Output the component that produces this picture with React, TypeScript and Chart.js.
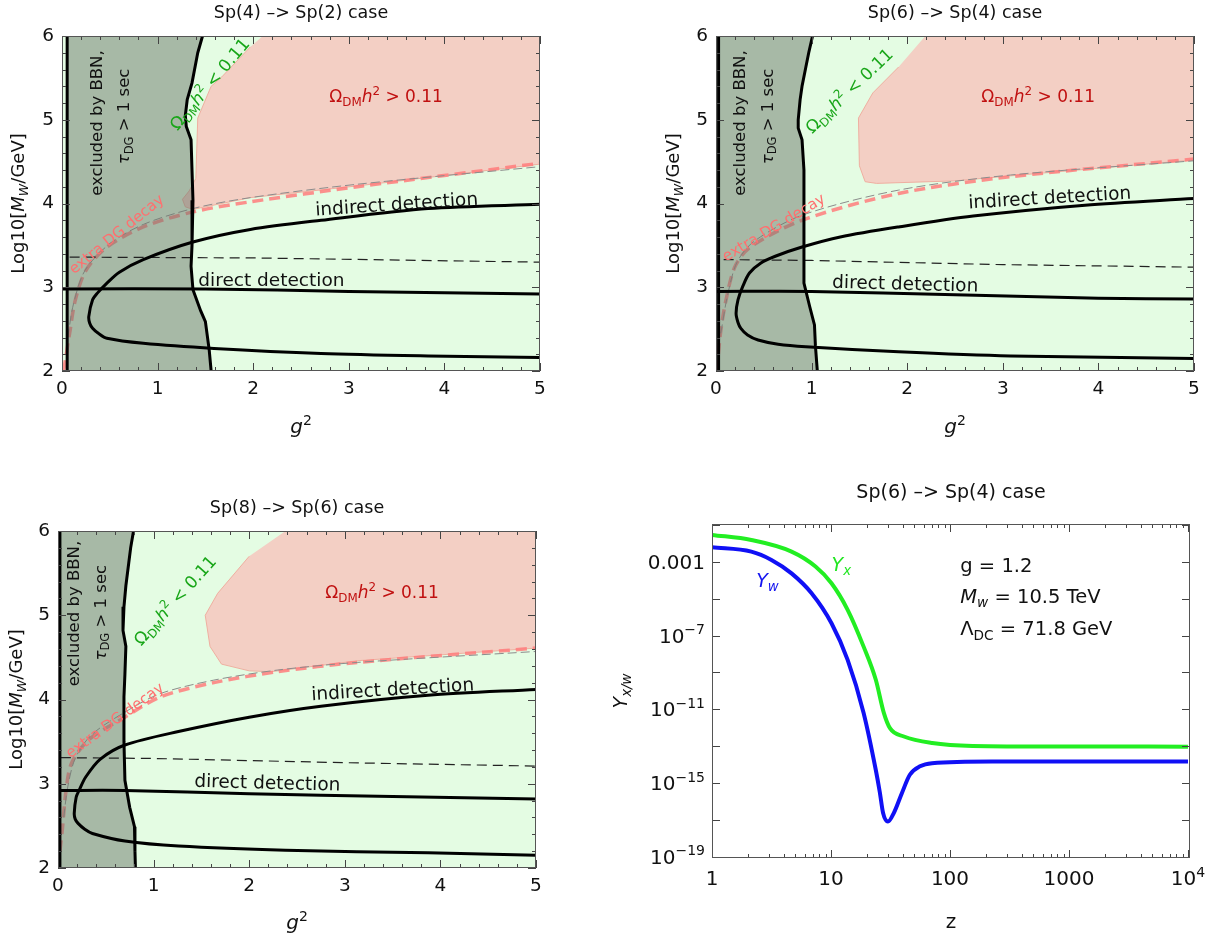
import React, { useEffect, useRef } from 'react';
import { Chart, registerables } from 'chart.js';

Chart.register(...registerables);

const FONT = '"DejaVu Sans", "Noto Sans", sans-serif';

// ================= Panel 1 : Sp(4) -> Sp(2) =================
const p1LeftLineG2 = 0.054;
const p1BbnG2 = [1.47, 1.42, 1.36, 1.31, 1.29, 1.30, 1.35, 1.37, 1.36, 1.35, 1.37, 1.45, 1.50, 1.54, 1.56];
const p1BbnLogM = [6.0, 5.8, 5.44, 5.24, 5.05, 4.92, 4.76, 4.04, 3.5, 3.25, 2.97, 2.72, 2.59, 2.25, 2.0];
const p1IndirectG2 = [5.0, 3.83, 2.71, 1.97, 1.37, 0.85, 0.6, 0.47, 0.37, 0.32, 0.28, 0.29, 0.32, 0.38, 0.47, 0.85, 1.59, 2.71, 3.83, 5.0];
const p1IndirectLogM = [3.99, 3.94, 3.8, 3.69, 3.54, 3.33, 3.18, 3.05, 2.93, 2.85, 2.65, 2.57, 2.51, 2.45, 2.39, 2.33, 2.27, 2.21, 2.18, 2.16];
const p1DirectG2 = [0, 1.5, 3.0, 5.0];
const p1DirectLogM = [2.98, 2.98, 2.95, 2.92];
const p1DashG2 = [0.08, 2.0, 5.0];
const p1DashLogM = [3.36, 3.35, 3.3];
const p1DecayG2 = [0.015, 0.024, 0.08, 0.14, 0.25, 0.47, 0.85, 1.37, 1.97, 3.09, 5.0];
const p1DecayLogM = [2.0, 2.05, 2.45, 2.85, 3.2, 3.48, 3.72, 3.9, 4.02, 4.2, 4.48];
const p1EdgeG2 = [0.06, 0.12, 0.24, 0.5, 0.85, 1.37, 1.97, 3.09, 5.0];
const p1EdgeLogM = [2.4, 2.8, 3.2, 3.52, 3.75, 3.94, 4.07, 4.23, 4.44];
const p1OverG2 = [2.1, 5.0, 5.0, 3.09, 1.97, 1.37, 1.29, 1.26, 1.33, 1.4, 1.42, 1.56, 1.67, 1.97];
const p1OverLogM = [6.0, 6.0, 4.47, 4.21, 4.07, 3.93, 3.96, 4.05, 4.15, 4.3, 5.02, 5.4, 5.51, 5.87];

// ================= Panel 2 : Sp(6) -> Sp(4) =================
const p2LeftLineG2 = 0.027;
const p2BbnG2 = [1.01, 0.97, 0.94, 0.9, 0.88, 0.86, 0.86, 0.9, 0.92, 0.92, 0.92, 0.92, 0.98, 1.03, 1.04, 1.06];
const p2BbnLogM = [6.0, 5.8, 5.63, 5.4, 5.24, 5.0, 4.9, 4.76, 4.4, 4.04, 3.5, 3.05, 2.77, 2.55, 2.3, 2.0];
const p2IndirectG2 = [5.0, 3.86, 2.69, 1.91, 1.3, 0.9, 0.62, 0.47, 0.35, 0.28, 0.23, 0.21, 0.23, 0.26, 0.33, 0.44, 0.65, 0.94, 1.91, 3.08, 5.0];
const p2IndirectLogM = [4.06, 3.98, 3.85, 3.72, 3.6, 3.48, 3.37, 3.29, 3.17, 3.01, 2.85, 2.69, 2.58, 2.51, 2.43, 2.37, 2.32, 2.29, 2.23, 2.18, 2.15];
const p2DirectG2 = [0, 1.0, 2.5, 4.0, 5.0];
const p2DirectLogM = [2.95, 2.95, 2.91, 2.87, 2.86];
const p2DashG2 = [0.08, 1.0, 3.0, 5.0];
const p2DashLogM = [3.33, 3.32, 3.27, 3.24];
const p2DecayG2 = [0.01, 0.047, 0.105, 0.2, 0.36, 0.9, 1.91, 3.08, 5.0];
const p2DecayLogM = [2.0, 2.45, 2.85, 3.25, 3.48, 3.8, 4.12, 4.32, 4.53];
const p2EdgeG2 = [0.05, 0.12, 0.22, 0.4, 0.9, 1.91, 3.08, 5.0];
const p2EdgeLogM = [2.45, 2.9, 3.3, 3.55, 3.86, 4.16, 4.34, 4.51];
const p2OverG2 = [2.19, 5.0, 5.0, 3.08, 2.5, 1.68, 1.56, 1.5, 1.49, 1.64, 1.91];
const p2OverLogM = [6.0, 6.0, 4.52, 4.33, 4.27, 4.24, 4.26, 4.45, 5.02, 5.32, 5.63];

// ================= Panel 3 : Sp(8) -> Sp(6) =================
const p3LeftLineG2 = 0.02;
const p3BbnG2 = [0.79, 0.76, 0.74, 0.71, 0.69, 0.68, 0.71, 0.7, 0.69, 0.69, 0.7, 0.75, 0.8, 0.805, 0.81];
const p3BbnLogM = [6.0, 5.8, 5.62, 5.35, 5.1, 4.82, 4.63, 4.3, 4.03, 3.5, 3.04, 2.72, 2.49, 2.2, 2.0];
const p3IndirectG2 = [5.0, 3.87, 2.75, 2.0, 1.26, 0.7, 0.44, 0.29, 0.22, 0.19, 0.17, 0.18, 0.21, 0.28, 0.36, 0.7, 1.26, 2.38, 3.87, 5.0];
const p3IndirectLogM = [4.12, 4.05, 3.92, 3.79, 3.62, 3.46, 3.29, 3.08, 2.92, 2.84, 2.65, 2.58, 2.53, 2.46, 2.41, 2.32, 2.26, 2.21, 2.18, 2.15];
const p3DirectG2 = [0, 0.7, 2.0, 3.5, 5.0];
const p3DirectLogM = [2.92, 2.92, 2.88, 2.85, 2.82];
const p3DashG2 = [0.03, 1.0, 3.0, 5.0];
const p3DashLogM = [3.31, 3.3, 3.25, 3.21];
const p3DecayG2 = [0.02, 0.045, 0.08, 0.14, 0.32, 0.7, 1.07, 1.63, 2.3, 3.13, 5.0];
const p3DecayLogM = [2.2, 2.45, 2.88, 3.24, 3.52, 3.79, 4.03, 4.2, 4.33, 4.44, 4.61];
const p3EdgeG2 = [0.06, 0.1, 0.18, 0.35, 0.7, 1.07, 1.63, 2.3, 3.13, 5.0];
const p3EdgeLogM = [2.6, 2.95, 3.3, 3.58, 3.85, 4.07, 4.23, 4.35, 4.44, 4.57];
const p3OverG2 = [2.38, 5.0, 5.0, 3.13, 2.23, 2.0, 1.71, 1.59, 1.54, 1.67, 2.0];
const p3OverLogM = [6.0, 6.0, 4.61, 4.46, 4.33, 4.34, 4.42, 4.63, 5.0, 5.26, 5.7];

// ================= Panel 4 : abundances =================
const p4YxZ = [1, 2.14, 4.66, 7.41, 10.1, 13.8, 18.8, 23.8, 27.8, 31.3, 41.0, 70.8, 155, 1000, 10000];
const p4YxVal = [2.95e-2, 1.55e-2, 3.63e-3, 5.62e-4, 6.92e-5, 2.51e-6, 2.51e-8, 3.98e-10, 6.31e-12, 9.33e-13, 3.31e-13, 1.45e-13, 1.02e-13, 9.5e-14, 9.3e-14];
const p4YwZ = [1, 2.14, 3.16, 4.66, 6.87, 10.1, 13.8, 18.8, 23.8, 25.7, 27.4, 30.1, 33.7, 39.4, 46.0, 56.0, 70.6, 226, 1000, 10000];
const p4YwVal = [6.3e-3, 3.63e-3, 1.29e-3, 2.4e-4, 2.0e-5, 4.68e-7, 4.79e-9, 6.31e-12, 5.0e-15, 3.2e-16, 2.29e-17, 7.9e-18, 2.29e-17, 2.75e-16, 2.75e-15, 7.9e-15, 1.17e-14, 1.45e-14, 1.45e-14, 1.45e-14];
const p4XTickValues = [1, 10, 100, 1000, 10000];
const p4XTickLabels = ['1', '10', '100', '1000', '10^4'];
const p4YTickValues = [1e-3, 1e-7, 1e-11, 1e-15, 1e-19];
const p4YTickLabels = ['0.001', '10^−7', '10^−11', '10^−15', '10^−19'];

// ================= helpers =================
type Pt = { x: number; y: number };
const zip = (xs: number[], ys: number[]): Pt[] => xs.map((x, i) => ({ x, y: ys[i] }));

type Seg = { t: string; it?: boolean; sub?: boolean; sup?: boolean; color?: string };
type Annot = { segs: Seg[]; x: number; y: number; size: number; color: string; align?: 'left' | 'center' | 'right'; angle?: number };

function drawRich(ctx: CanvasRenderingContext2D, segs: Seg[], x: number, y: number, size: number, color: string, align: 'left' | 'center' | 'right' = 'center', angle = 0) {
  ctx.save();
  ctx.translate(x, y);
  if (angle) ctx.rotate((angle * Math.PI) / 180);
  ctx.textBaseline = 'alphabetic';
  ctx.textAlign = 'left';
  const small = size * 0.7;
  const fontOf = (s: Seg) => `${s.it ? 'italic ' : ''}${s.sub || s.sup ? small : size}px ${FONT}`;
  const widths = segs.map((s) => {
    ctx.font = fontOf(s);
    return ctx.measureText(s.t).width;
  });
  const total = widths.reduce((a, b) => a + b, 0);
  let cx = align === 'center' ? -total / 2 : align === 'right' ? -total : 0;
  const base = size * 0.36;
  segs.forEach((s, i) => {
    ctx.font = fontOf(s);
    ctx.fillStyle = s.color ?? color;
    const dy = s.sub ? size * 0.22 : s.sup ? -size * 0.42 : 0;
    ctx.fillText(s.t, cx, base + dy);
    cx += widths[i];
  });
  ctx.restore();
}

const labelSegs = (lab: string): Seg[] => {
  const i = lab.indexOf('^');
  if (i < 0) return [{ t: lab }];
  return [{ t: lab.slice(0, i) }, { t: lab.slice(i + 1), sup: true }];
};

type Layout = {
  left: number; top: number; w: number; h: number;
  yAxisW: number; padTop: number; padRight: number; xAxisH: number;
  titleY: number; xTitleY: number; yTitleX: number;
};

const LAYOUTS: Layout[] = [
  { left: 0, top: 0, w: 590, h: 460, yAxisW: 62, padTop: 36, padRight: 50, xAxisH: 89, titleY: -24, xTitleY: 55, yTitleX: -44 },
  { left: 620, top: 0, w: 602, h: 460, yAxisW: 96, padTop: 36, padRight: 28, xAxisH: 89, titleY: -24, xTitleY: 55, yTitleX: -43 },
  { left: 0, top: 470, w: 590, h: 468, yAxisW: 58, padTop: 61, padRight: 54, xAxisH: 70, titleY: -24, xTitleY: 54, yTitleX: -42 },
  { left: 600, top: 470, w: 622, h: 468, yAxisW: 112, padTop: 54, padRight: 32, xAxisH: 80, titleY: -33, xTitleY: 63, yTitleX: -92 },
];

type TickSpec = { xMajor: number[]; xMinor: number[]; yMajor: number[]; yMinor: number[] };

function framePlugin(spec: TickSpec, bg: string | null) {
  return {
    id: 'frameTicks',
    beforeDatasetsDraw(chart: any) {
      if (!bg) return;
      const { ctx, chartArea: a } = chart;
      ctx.save();
      ctx.fillStyle = bg;
      ctx.fillRect(a.left, a.top, a.right - a.left, a.bottom - a.top);
      ctx.restore();
    },
    afterDatasetsDraw(chart: any) {
      const { ctx, chartArea: a, scales } = chart;
      ctx.save();
      ctx.strokeStyle = '#444';
      ctx.lineWidth = 1;
      const seg = (x1: number, y1: number, x2: number, y2: number) => {
        ctx.beginPath();
        ctx.moveTo(x1, y1);
        ctx.lineTo(x2, y2);
        ctx.stroke();
      };
      const xt = (v: number, len: number) => {
        const p = Math.round(scales.x.getPixelForValue(v)) + 0.5;
        if (p < a.left - 1 || p > a.right + 1) return;
        seg(p, a.bottom, p, a.bottom - len);
        seg(p, a.top, p, a.top + len);
      };
      const yt = (v: number, len: number) => {
        const p = Math.round(scales.y.getPixelForValue(v)) + 0.5;
        if (p < a.top - 1 || p > a.bottom + 1) return;
        seg(a.left, p, a.left + len, p);
        seg(a.right, p, a.right - len, p);
      };
      spec.xMajor.forEach((v) => xt(v, 8));
      spec.xMinor.forEach((v) => xt(v, 4));
      spec.yMajor.forEach((v) => yt(v, 8));
      spec.yMinor.forEach((v) => yt(v, 4));
      ctx.strokeStyle = '#555';
      ctx.strokeRect(Math.round(a.left) + 0.5, Math.round(a.top) + 0.5, Math.round(a.right - a.left) - 1, Math.round(a.bottom - a.top) - 1);
      ctx.restore();
    },
  };
}

function textPlugin(lay: Layout, title: string, titleSize: number, xTitle: Seg[], xTitleSize: number, yTitle: Seg[], yTitleSize: number, annots: Annot[], tickLabels?: { size: number }) {
  return {
    id: 'texts',
    afterDraw(chart: any) {
      const { ctx, chartArea: a, scales } = chart;
      const cx = (a.left + a.right) / 2;
      const cy = (a.top + a.bottom) / 2;
      drawRich(ctx, [{ t: title }], cx, a.top + lay.titleY, titleSize, '#111');
      drawRich(ctx, xTitle, cx, a.bottom + lay.xTitleY, xTitleSize, '#111');
      drawRich(ctx, yTitle, a.left + lay.yTitleX, cy, yTitleSize, '#111', 'center', -90);
      for (const an of annots) {
        const px = scales.x.getPixelForValue(an.x);
        const py = scales.y.getPixelForValue(an.y);
        drawRich(ctx, an.segs, px, py, an.size, an.color, an.align ?? 'center', an.angle ?? 0);
      }
      if (tickLabels) {
        p4XTickValues.forEach((v, i) => {
          drawRich(ctx, labelSegs(p4XTickLabels[i]), scales.x.getPixelForValue(v), a.bottom + 20, tickLabels.size, '#111', 'center');
        });
        p4YTickValues.forEach((v, i) => {
          drawRich(ctx, labelSegs(p4YTickLabels[i]), a.left - 7, scales.y.getPixelForValue(v), tickLabels.size, '#111', 'right');
        });
      }
    },
  };
}

type ContourData = {
  left: number;
  bbn: Pt[];
  indirect: Pt[];
  direct: Pt[];
  dash: Pt[];
  decay: Pt[];
  edge: Pt[];
  over: Pt[];
};

const BG_GREEN = '#e4fce3';
const PINK_FILL = '#f3cfc4';
const GRAY_FILL = 'rgba(105,118,105,0.5)';

function linearTicks(min: number, max: number, step: number): number[] {
  const out: number[] = [];
  for (let i = 0; min + i * step <= max + 1e-9; i++) out.push(+(min + i * step).toFixed(6));
  return out;
}

function makeContour(canvas: HTMLCanvasElement, lay: Layout, d: ContourData, title: string, annots: Annot[]) {
  const line = (data: Pt[], color: string, width: number, order: number, extra: any = {}) => ({
    data, borderColor: color, borderWidth: width, order, fill: false, pointRadius: 0, ...extra,
  });
  const grayShape = [{ x: d.left, y: 2 }, { x: d.left, y: 6 }, ...d.bbn];
  const datasets: any[] = [
    line(d.over, 'rgba(238,170,155,0.9)', 1, 20, { fill: 'shape', backgroundColor: PINK_FILL }),
    line(d.decay, 'rgba(255,125,125,0.85)', 3.5, 19, { borderDash: [11, 6], tension: 0.3 }),
    line(d.edge, '#8c8c8c', 1, 18, { borderDash: [9, 4], tension: 0.3 }),
    line(grayShape, 'rgba(0,0,0,0)', 0, 17, { fill: 'shape', backgroundColor: GRAY_FILL }),
    line(d.dash, '#222', 1.2, 16, { borderDash: [10, 6] }),
    line([{ x: d.left, y: 2 }, { x: d.left, y: 6 }], '#000', 3, 15),
    line(d.bbn, '#000', 3, 14),
    line(d.indirect, '#000', 3, 13, { tension: 0.3 }),
    line(d.direct, '#000', 3, 12, { tension: 0.3 }),
  ];
  const xs = linearTicks(0, 5, 0.2);
  const ys = linearTicks(2, 6, 0.2);
  const spec: TickSpec = {
    xMajor: xs.filter((v) => Math.abs(v - Math.round(v)) < 1e-6),
    xMinor: xs.filter((v) => Math.abs(v - Math.round(v)) >= 1e-6),
    yMajor: ys.filter((v) => Math.abs(v - Math.round(v)) < 1e-6),
    yMinor: ys.filter((v) => Math.abs(v - Math.round(v)) >= 1e-6),
  };
  const tickFont = { family: FONT, size: 18.5 };
  return new Chart(canvas, {
    type: 'line',
    data: { datasets },
    options: {
      responsive: false,
      animation: false,
      devicePixelRatio: 1,
      events: [],
      layout: { padding: { left: 0, top: lay.padTop, right: lay.padRight, bottom: 0 } },
      elements: { point: { radius: 0, hoverRadius: 0 }, line: { tension: 0, capBezierPoints: true } },
      plugins: { legend: { display: false }, tooltip: { enabled: false }, title: { display: false } },
      scales: {
        x: {
          type: 'linear', min: 0, max: 5,
          grid: { display: false, drawTicks: false }, border: { display: false },
          ticks: { stepSize: 1, font: tickFont, color: '#111', padding: 7, maxRotation: 0, autoSkip: false },
          afterFit: (s: any) => { s.height = lay.xAxisH; s.paddingLeft = 0; s.paddingRight = 0; },
        },
        y: {
          type: 'linear', min: 2, max: 6,
          grid: { display: false, drawTicks: false }, border: { display: false },
          ticks: { stepSize: 1, font: tickFont, color: '#111', padding: 8, autoSkip: false },
          afterFit: (s: any) => { s.width = lay.yAxisW; s.paddingTop = 0; s.paddingBottom = 0; },
        },
      },
    } as any,
    plugins: [
      framePlugin(spec, BG_GREEN),
      textPlugin(lay, title, 17.5, [{ t: 'g', it: true }, { t: '2', sup: true }], 20,
        [{ t: 'Log10[' }, { t: 'M', it: true }, { t: 'W', it: true, sub: true }, { t: '/GeV]' }], 18, annots),
    ],
  });
}

const omegaSegs = (rel: string): Seg[] => [
  { t: 'Ω' }, { t: 'DM', sub: true }, { t: 'h', it: true }, { t: '2', sup: true }, { t: ` ${rel} 0.11` },
];
const bbnA: Seg[] = [{ t: 'excluded by BBN,' }];
const bbnB: Seg[] = [{ t: 'τ', it: true }, { t: 'DG', sub: true }, { t: ' > 1 sec' }];
const GREEN_TXT = '#19a619';
const RED_TXT = '#c01010';
const PINK_TXT = '#ff6f6f';

function contourAnnots(p: { bbnA: number[]; bbnB: number[]; less: number[]; more: number[]; ind: number[]; dir: number[]; ext: number[] }): Annot[] {
  return [
    { segs: bbnA, x: p.bbnA[0], y: p.bbnA[1], size: 16.5, color: '#111', angle: -90 },
    { segs: bbnB, x: p.bbnB[0], y: p.bbnB[1], size: 16.5, color: '#111', angle: -90 },
    { segs: omegaSegs('<'), x: p.less[0], y: p.less[1], size: 17, color: GREEN_TXT, angle: p.less[2] },
    { segs: omegaSegs('>'), x: p.more[0], y: p.more[1], size: 17, color: RED_TXT },
    { segs: [{ t: 'indirect detection' }], x: p.ind[0], y: p.ind[1], size: 18.5, color: '#111', angle: p.ind[2] },
    { segs: [{ t: 'direct detection' }], x: p.dir[0], y: p.dir[1], size: 18.5, color: '#111', angle: p.dir[2] },
    { segs: [{ t: 'extra DG decay' }], x: p.ext[0], y: p.ext[1], size: 15, color: PINK_TXT, angle: p.ext[2] },
  ];
}

function makeAbundance(canvas: HTMLCanvasElement, lay: Layout) {
  const xMinor: number[] = [];
  [1, 10, 100, 1000].forEach((dec) => { for (let k = 2; k <= 9; k++) xMinor.push(k * dec); });
  const yMajor: number[] = [];
  for (let e = -19; e <= -1; e += 2) yMajor.push(Math.pow(10, e));
  const spec: TickSpec = { xMajor: p4XTickValues, xMinor, yMajor, yMinor: [] };
  const annots: Annot[] = [
    { segs: [{ t: 'Y', it: true }, { t: 'x', it: true, sub: true }], x: 12.2, y: 7.5e-4, size: 19, color: '#22e622' },
    { segs: [{ t: 'Y', it: true }, { t: 'w', it: true, sub: true }], x: 2.92, y: 1.05e-4, size: 19, color: '#1414f0' },
    { segs: [{ t: 'g = 1.2' }], x: 122, y: 6.9e-4, size: 19.5, color: '#111', align: 'left' },
    { segs: [{ t: 'M', it: true }, { t: 'w', it: true, sub: true }, { t: ' = 10.5 TeV' }], x: 122, y: 1.4e-5, size: 19.5, color: '#111', align: 'left' },
    { segs: [{ t: 'Λ' }, { t: 'DC', sub: true }, { t: ' = 71.8 GeV' }], x: 122, y: 2.5e-7, size: 19.5, color: '#111', align: 'left' },
  ];
  const hidden = { display: false };
  return new Chart(canvas, {
    type: 'line',
    data: {
      datasets: [
        { data: zip(p4YxZ, p4YxVal), borderColor: '#22ee22', borderWidth: 4, pointRadius: 0, fill: false, cubicInterpolationMode: 'monotone' },
        { data: zip(p4YwZ, p4YwVal), borderColor: '#1010f5', borderWidth: 4, pointRadius: 0, fill: false, cubicInterpolationMode: 'monotone' },
      ],
    },
    options: {
      responsive: false,
      animation: false,
      devicePixelRatio: 1,
      events: [],
      layout: { padding: { left: 0, top: lay.padTop, right: lay.padRight, bottom: 0 } },
      elements: { point: { radius: 0, hoverRadius: 0 } },
      plugins: { legend: { display: false }, tooltip: { enabled: false }, title: { display: false } },
      scales: {
        x: {
          type: 'logarithmic', min: 1, max: 10400,
          grid: { display: false, drawTicks: false }, border: { display: false }, ticks: hidden,
          afterFit: (s: any) => { s.height = lay.xAxisH; s.paddingLeft = 0; s.paddingRight = 0; },
        },
        y: {
          type: 'logarithmic', min: 8.3e-20, max: 0.115,
          grid: { display: false, drawTicks: false }, border: { display: false }, ticks: hidden,
          afterFit: (s: any) => { s.width = lay.yAxisW; s.paddingTop = 0; s.paddingBottom = 0; },
        },
      },
    } as any,
    plugins: [
      framePlugin(spec, null),
      textPlugin(lay, 'Sp(6) –> Sp(4) case', 19, [{ t: 'z' }], 20,
        [{ t: 'Y', it: true }, { t: 'x/w', it: true, sub: true }], 19, annots, { size: 20 }),
    ],
  });
}

export default function App() {
  const r1 = useRef<HTMLCanvasElement>(null);
  const r2 = useRef<HTMLCanvasElement>(null);
  const r3 = useRef<HTMLCanvasElement>(null);
  const r4 = useRef<HTMLCanvasElement>(null);
  const refs = [r1, r2, r3, r4];

  useEffect(() => {
    const charts: Chart[] = [];
    charts.push(
      makeContour(r1.current!, LAYOUTS[0], {
        left: p1LeftLineG2,
        bbn: zip(p1BbnG2, p1BbnLogM),
        indirect: zip(p1IndirectG2, p1IndirectLogM),
        direct: zip(p1DirectG2, p1DirectLogM),
        dash: zip(p1DashG2, p1DashLogM),
        decay: zip(p1DecayG2, p1DecayLogM),
        edge: zip(p1EdgeG2, p1EdgeLogM),
        over: zip(p1OverG2, p1OverLogM),
      }, 'Sp(4) –> Sp(2) case', contourAnnots({
        bbnA: [0.36, 4.96], bbnB: [0.64, 5.04], less: [1.54, 5.43, -50], more: [3.39, 5.28],
        ind: [3.5, 4.0, -3.8], dir: [2.19, 3.09, 0], ext: [0.565, 3.64, -39],
      })),
    );
    charts.push(
      makeContour(r2.current!, LAYOUTS[1], {
        left: p2LeftLineG2,
        bbn: zip(p2BbnG2, p2BbnLogM),
        indirect: zip(p2IndirectG2, p2IndirectLogM),
        direct: zip(p2DirectG2, p2DirectLogM),
        dash: zip(p2DashG2, p2DashLogM),
        decay: zip(p2DecayG2, p2DecayLogM),
        edge: zip(p2EdgeG2, p2EdgeLogM),
        over: zip(p2OverG2, p2OverLogM),
      }, 'Sp(6) –> Sp(4) case', contourAnnots({
        bbnA: [0.24, 4.96], bbnB: [0.53, 5.04], less: [1.39, 5.35, -44], more: [3.37, 5.28],
        ind: [3.49, 4.08, -3.5], dir: [1.98, 3.05, 1.5], ext: [0.6, 3.72, -31],
      })),
    );
    charts.push(
      makeContour(r3.current!, LAYOUTS[2], {
        left: p3LeftLineG2,
        bbn: zip(p3BbnG2, p3BbnLogM),
        indirect: zip(p3IndirectG2, p3IndirectLogM),
        direct: zip(p3DirectG2, p3DirectLogM),
        dash: zip(p3DashG2, p3DashLogM),
        decay: zip(p3DecayG2, p3DecayLogM),
        edge: zip(p3EdgeG2, p3EdgeLogM),
        over: zip(p3OverG2, p3OverLogM),
      }, 'Sp(8) –> Sp(6) case', contourAnnots({
        bbnA: [0.157, 5.02], bbnB: [0.437, 5.03], less: [1.22, 5.18, -48], more: [3.39, 5.28],
        ind: [3.5, 4.13, -3.5], dir: [2.19, 3.02, 1.5], ext: [0.59, 3.76, -36],
      })),
    );
    charts.push(makeAbundance(r4.current!, LAYOUTS[3]));
    return () => charts.forEach((c) => c.destroy());
  }, []);

  return (
    <div style={{ position: 'absolute', left: 0, top: 0, width: 1222, height: 938, background: '#fff', overflow: 'hidden' }}>
      {LAYOUTS.map((l, i) => (
        <canvas
          key={i}
          ref={refs[i]}
          width={l.w}
          height={l.h}
          style={{ position: 'absolute', left: l.left, top: l.top, width: l.w, height: l.h, display: 'block' }}
        />
      ))}
    </div>
  );
}
